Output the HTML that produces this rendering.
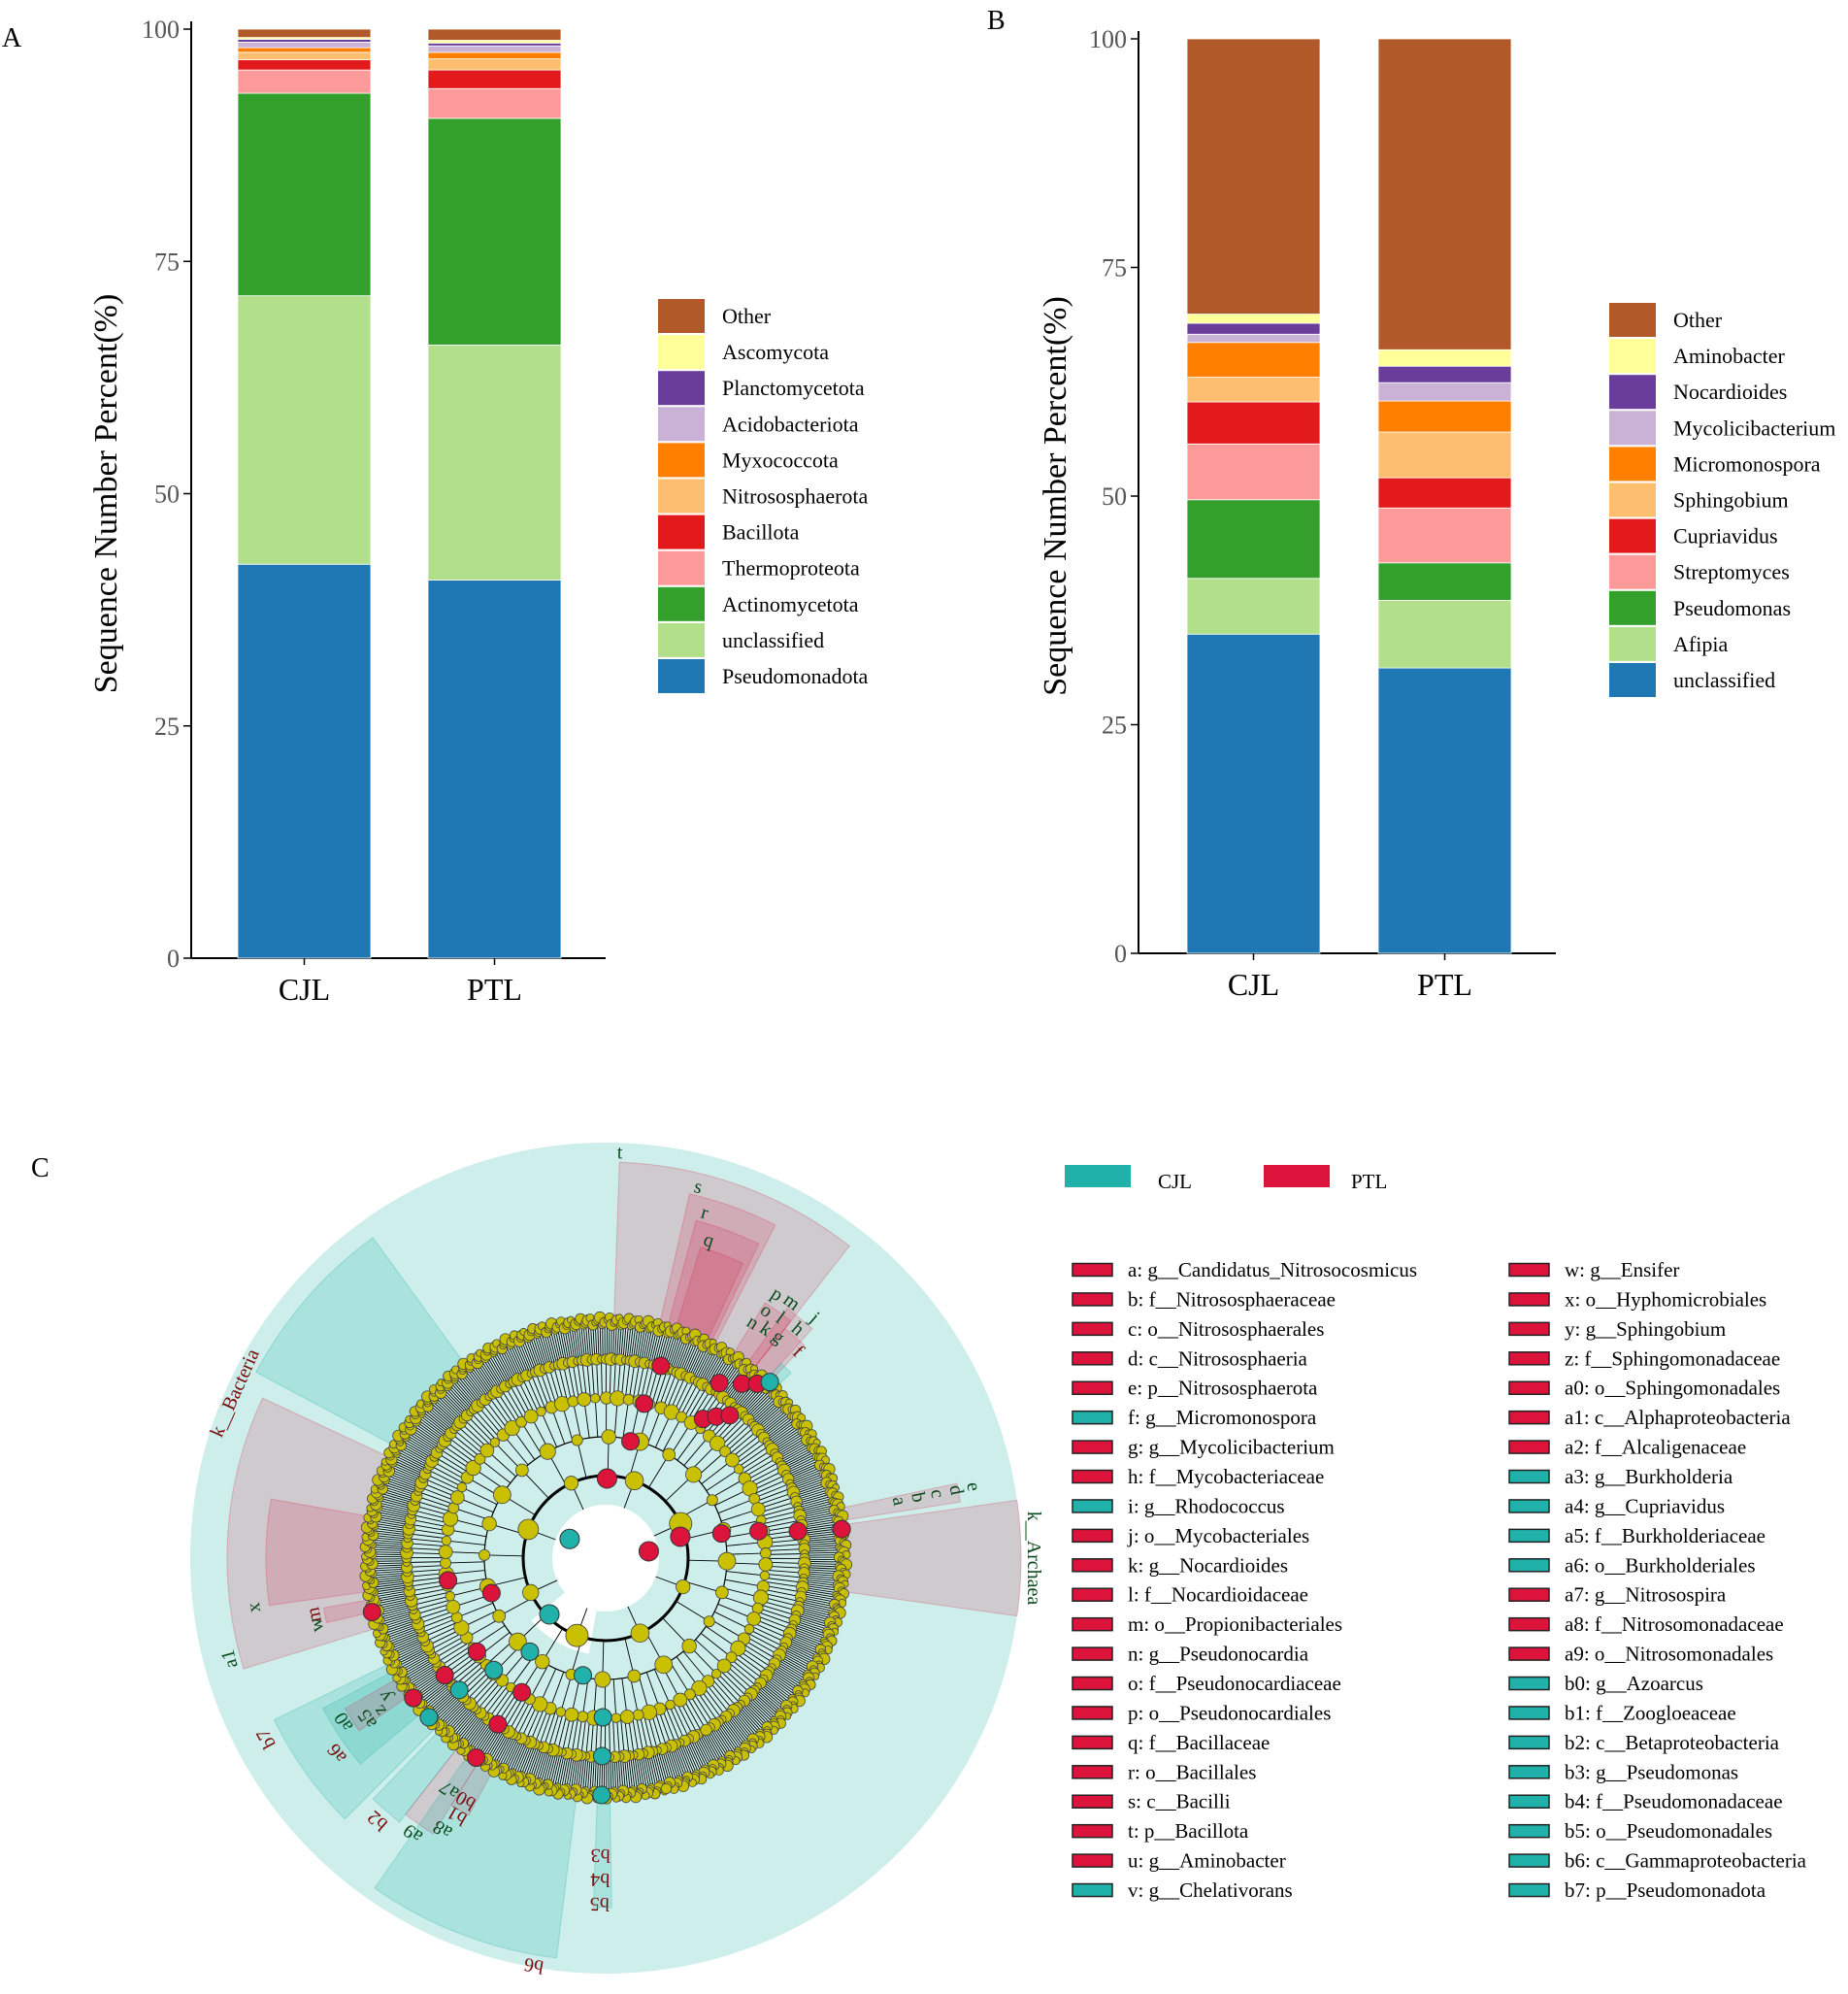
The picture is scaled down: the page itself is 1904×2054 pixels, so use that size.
<!DOCTYPE html>
<html><head><meta charset="utf-8"><style>
html,body{margin:0;padding:0;background:#fff;}
svg{display:block;font-family:"Liberation Serif",serif;}
</style></head><body>
<svg id="fig" width="1904" height="2054" viewBox="0 0 1904 2054" xmlns="http://www.w3.org/2000/svg">
<text x="2" y="48" font-size="28">A</text>
<text x="1017" y="30" font-size="28">B</text>
<text x="32" y="1212" font-size="28">C</text>
<g id="chartA"></g>
<g id="chartB"></g>
<g id="clado"></g>
<g id="legC"></g>
</svg>
<script>
const NS="http://www.w3.org/2000/svg";
const categories=['CJL','PTL'];
const ticks=[0,25,50,75,100];
const colorsStack=['#1f78b4','#b2df8a','#33a02c','#fb9a99','#e31a1c','#fdbf6f','#ff7f00','#cab2d6','#6a3d9a','#ffff99','#b15928'];
const seriesA=['Pseudomonadota','unclassified','Actinomycetota','Thermoproteota','Bacillota','Nitrososphaerota','Myxococcota','Acidobacteriota','Planctomycetota','Ascomycota','Other'];
const cjlA=[42.4,28.9,21.8,2.5,1.1,0.8,0.5,0.6,0.3,0.2,0.9];
const ptlA=[40.7,25.3,24.4,3.2,2.0,1.2,0.7,0.7,0.3,0.3,1.2];
const seriesB=['unclassified','Afipia','Pseudomonas','Streptomyces','Cupriavidus','Sphingobium','Micromonospora','Mycolicibacterium','Nocardioides','Aminobacter','Other'];
const cjlB=[34.9,6.1,8.6,6.1,4.6,2.7,3.8,0.9,1.2,1.0,30.1];
const ptlB=[31.2,7.4,4.1,6.0,3.3,5.0,3.4,2.0,1.8,1.8,34.0];

function mk(tag,attrs,parent){const e=document.createElementNS(NS,tag);for(const k in attrs)e.setAttribute(k,attrs[k]);parent.appendChild(e);return e;}

function stack(g,cfg,series,vals){
  const y=v=>cfg.y0-(cfg.y0-cfg.y100)*v/100;
  let ax=mk('line',{x1:cfg.ax,y1:cfg.y100-8,x2:cfg.ax,y2:cfg.y0,stroke:'#000','stroke-width':2},g);
  
  
  let xa=mk('line',{x1:cfg.ax,y1:cfg.y0,x2:cfg.xend,y2:cfg.y0,stroke:'#000','stroke-width':2},g);
  
  
  ticks.forEach(t=>{
    const tl=mk('line',{x1:cfg.ax-8,y1:y(t),x2:cfg.ax,y2:y(t),stroke:'#000','stroke-width':1.5},g);
    
    
    const tx=mk('text',{x:cfg.ax-12,y:y(t)+9,'font-size':26,'text-anchor':'end',fill:'#555'},g);
    tx.textContent=t;
    
    
  });
  const yt=mk('text',{x:0,y:0,'font-size':34,'text-anchor':'middle',transform:`translate(${cfg.titleX},${(cfg.y0+cfg.y100)/2}) rotate(-90)`},g);
  yt.textContent='Sequence Number Percent(%)';
  
  
  categories.forEach((c,ci)=>{
    const x0=cfg.barX[ci];let cum=0;
    vals[ci].forEach((v,si)=>{
      const r=mk('rect',{x:x0,y:y(cum+v),width:cfg.bw,height:y(cum)-y(cum+v),fill:colorsStack[si],stroke:'#fff','stroke-width':0.8},g);
      
      
      cum+=v;
    });
    const cx=x0+cfg.bw/2;
    const tk=mk('line',{x1:cx,y1:cfg.y0,x2:cx,y2:cfg.y0+7,stroke:'#000','stroke-width':1.5},g);
    
    
    const lt=mk('text',{x:cx,y:cfg.y0+43,'font-size':32,'text-anchor':'middle'},g);
    lt.textContent=c;
    
    
  });
  for(let i=series.length-1,row=0;i>=0;i--,row++){
    const ly=cfg.legY+row*37.1;
    const sw=mk('rect',{x:cfg.legX,y:ly,width:48,height:35,fill:colorsStack[i]},g);
    
    
    const lt=mk('text',{x:cfg.legX+66,y:ly+25,'font-size':22},g);
    lt.textContent=series[i];
    
    
  }
}
stack(document.getElementById('chartA'),{ax:197,y0:987,y100:30,xend:624,bw:137,barX:[245,441],titleX:120,legX:678,legY:308},seriesA,[cjlA,ptlA]);
stack(document.getElementById('chartB'),{ax:1173,y0:982,y100:40,xend:1603,bw:137,barX:[1223,1420],titleX:1098,legX:1658,legY:312},seriesB,[cjlB,ptlB]);

// ---------- Cladogram ----------
const C=document.getElementById('clado');
const cx=624,cy=1605,R=428;
const rad=d=>d*Math.PI/180;
const P=(a,r)=>[cx+r*Math.cos(rad(a)),cy+r*Math.sin(rad(a))];
function sector(a1,a2,r0,r1){const [x1,y1]=P(a1,r1),[x2,y2]=P(a2,r1),[x3,y3]=P(a2,r0),[x4,y4]=P(a1,r0);const l=(a2-a1)>180?1:0;
  return `M${x1},${y1} A${r1},${r1} 0 ${l} 1 ${x2},${y2} L${x3},${y3} A${r0},${r0} 0 ${l} 0 ${x4},${y4} Z`;}
let bg=mk('circle',{cx,cy,r:R,fill:'#cdeeea'},C);


const wedgeAngles=[[-8,8,428,'p'],[-88,-52,408,'p'],[-77,-63,385,'p'],[-75,-64,360,'p'],[-73,-65,335,'p'],[-58,-52,310,'p'],[-54,-48,318,'p'],[-52,-47,300,'p'],[-12,-9,370,'p'],
 [-152,-126,408,'t'],[163,205,390,'p'],[172,190,350,'p'],[167,170,295,'p'],[135,154,380,'t'],[140,152,330,'t'],[145,150,310,'p'],[128,134,345,'t'],[122,128,335,'p'],[118,122,300,'p'],[97,125,415,'t'],[89,92,360,'t'],[-48,-45,270,'t']];
wedgeAngles.forEach(w=>{
  const p=mk('path',{d:sector(w[0],w[1],245,w[2]),fill:w[3]==='p'?'rgba(220,20,60,0.16)':'rgba(32,178,170,0.2)',stroke:w[3]==='p'?'rgba(220,20,60,0.25)':'rgba(32,178,170,0.3)'},C);
  
  
});
const hole=mk('circle',{cx,cy,r:55,fill:'#fff'},C);


mk('path',{d:sector(100,140,50,100),fill:'#fff'},C);
// rings: [inner r, outer r, count, node radius]
const rings=[[55,85,8,9],[85,125,24,7],[125,165,90,6],[165,205,260,5],[205,248,620,4.5]];
const gl=mk('g',{stroke:'#000','stroke-width':0.9},C);
rings.forEach((rg,k)=>{
  if(k>0){const arc=mk('circle',{cx,cy,r:rg[0],fill:'none',stroke:'#000','stroke-width':rg[0]<90?3:1.2},gl);
  
  }
  for(let i=0;i<rg[2];i++){const a=i*360/rg[2]+rg[0]*0.37;const [x1,y1]=P(a,rg[0]),[x2,y2]=P(a,rg[1]);
    mk('line',{x1,y1,x2,y2},gl);}
});
const gn=mk('g',{fill:'#c8c000',stroke:'#444','stroke-width':0.8},C);
rings.forEach(rg=>{for(let i=0;i<rg[2];i++){const a=i*360/rg[2]+rg[0]*0.37;const rr=rg[1]-((i*3)%4)*(rg[2]>300?2.5:0);const [x,y]=P(a,rr);
  mk('circle',{cx:x,cy:y,r:rg[3]*(0.8+((i*7)%5)*0.12)},gn);}});
const marked=[[-89,82,'r'],[-78,123,'r'],[-76,164,'r'],[-74,206,'r'],[-9,45,'r'],[-16,80,'r'],[-12,122,'r'],[-10,160,'r'],[-8,200,'r'],[-7,245,'r'],
 [-55,175,'r'],[-52,185,'r'],[-49,195,'r'],[-57,215,'r'],[-52,228,'r'],[-49,238,'r'],[-47,248,'t'],[-152,42,'t'],[172,164,'r'],[163,123,'r'],
 [135,82,'t'],[129,124,'t'],[101,123,'t'],[135,163,'t'],[138,203,'t'],[144,164,'r'],[122,163,'r'],[123,204,'r'],[123,245,'r'],[144,205,'r'],[144,245,'r'],[138,245,'t'],[167,247,'r'],[91,164,'t'],[91,204,'t'],[91,244,'t']];
marked.forEach(m=>{const [x,y]=P(m[0],m[1]);const c=mk('circle',{cx:x,cy:y,r:m[1]<100?10:9,fill:m[2]==='r'?'#dc143c':'#20b2aa',stroke:'#333','stroke-width':1},C);
  
  });
const labels=[['t',-88,412,'g'],['s',-76,388,'g'],['r',-74,364,'g'],['q',-72,338,'g'],['p',-57,318,'g'],['o',-57,298,'g'],['n',-58,280,'g'],['m',-54,320,'g'],['l',-54,300,'g'],['k',-55,282,'g'],['j',-49,322,'g'],['h',-50,302,'g'],['g',-52,283,'g'],['f',-47,285,'r'],
 ['e',-11,380,'g'],['d',-11,362,'g'],['c',-11,342,'g'],['b',-11,322,'g'],['a',-11,302,'g'],['k__Archaea',0,435,'g'],['k__Bacteria',-156,412,'r'],['x',172,360,'g'],['m',169,300,'r'],['w',167,300,'g'],['a1',165,395,'g'],
 ['b7',152,390,'r'],['a6',144,336,'r'],['a0',148,312,'g'],['a5',146,290,'g'],['z',146,275,'g'],['y',148,262,'g'],['b2',131,352,'r'],['a9',125,340,'g'],['a8',121,320,'g'],['b1',120,300,'r'],['b0',120,282,'r'],['a7',124,282,'g'],['b6',100,420,'r'],['b3',91,300,'r'],['b4',91,325,'r'],['b5',91,350,'r']];
labels.forEach(l=>{const [x,y]=P(l[1],l[2]);const t=mk('text',{x,y,'font-size':20,'text-anchor':'middle',fill:l[3]==='g'?'#0b4a1e':'#7a0a0a',transform:`rotate(${l[1]+90},${x},${y})`},C);
  t.textContent=l[0];
  
  });

// ---------- legend C ----------
const L=document.getElementById('legC');
const cladeNames=['a: g__Candidatus_Nitrosocosmicus','b: f__Nitrososphaeraceae','c: o__Nitrososphaerales','d: c__Nitrososphaeria','e: p__Nitrososphaerota','f: g__Micromonospora','g: g__Mycolicibacterium','h: f__Mycobacteriaceae','i: g__Rhodococcus','j: o__Mycobacteriales','k: g__Nocardioides','l: f__Nocardioidaceae','m: o__Propionibacteriales','n: g__Pseudonocardia','o: f__Pseudonocardiaceae','p: o__Pseudonocardiales','q: f__Bacillaceae','r: o__Bacillales','s: c__Bacilli','t: p__Bacillota','u: g__Aminobacter','v: g__Chelativorans',
'w: g__Ensifer','x: o__Hyphomicrobiales','y: g__Sphingobium','z: f__Sphingomonadaceae','a0: o__Sphingomonadales','a1: c__Alphaproteobacteria','a2: f__Alcaligenaceae','a3: g__Burkholderia','a4: g__Cupriavidus','a5: f__Burkholderiaceae','a6: o__Burkholderiales','a7: g__Nitrosospira','a8: f__Nitrosomonadaceae','a9: o__Nitrosomonadales','b0: g__Azoarcus','b1: f__Zoogloeaceae','b2: c__Betaproteobacteria','b3: g__Pseudomonas','b4: f__Pseudomonadaceae','b5: o__Pseudomonadales','b6: c__Gammaproteobacteria','b7: p__Pseudomonadota'];
const cladeGroup='PPPPPCPPCPPPPPPPPPPPPCPPPPPPPCCCCPPPCCCCCCCC';
[['CJL','#20b2aa',1097,1193],['PTL','#dc143c',1302,1392]].forEach(g=>{
  const s=mk('rect',{x:g[2],y:1200,width:68,height:23,fill:g[1]},L);
  
  
  const t=mk('text',{x:g[3],y:1224,'font-size':21},L);
  t.textContent=g[0];
  
  
});
cladeNames.forEach((n,i)=>{const col=i<22?0:1,row=i%22;const x=col?1555:1105,y=1308+row*30.43;
  const s=mk('rect',{x,y:y-6.5,width:41,height:13,fill:cladeGroup[i]==='C'?'#20b2aa':'#dc143c',stroke:'#222','stroke-width':1.5},L);
  
  
  const t=mk('text',{x:x+57,y:y+7,'font-size':21},L);
  t.textContent=n;
  
  
});
</script>
</body></html>
